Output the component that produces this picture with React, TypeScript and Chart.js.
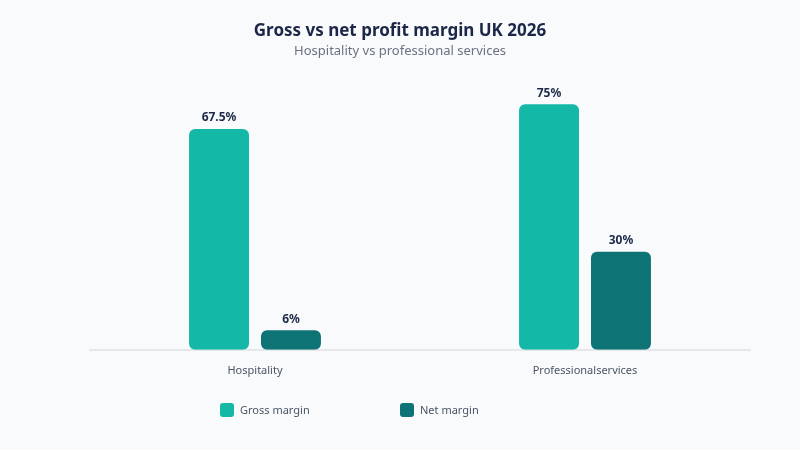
import React, { useEffect, useRef } from "react";
import { Chart, registerables } from "chart.js";

Chart.register(...registerables);

const categories = ["Hospitality", "Professionalservices"];
const grossMargin = [67.5, 75];
const netMargin = [6, 30];
const seriesNames = ["Gross margin", "Net margin"];
const seriesColors = ["#14b8a6", "#0e7374"];
const chartTitle = "Gross vs net profit margin UK 2026";
const chartSubtitle = "Hospitality vs professional services";

const FONT = "'Noto Sans', 'Open Sans', sans-serif";

// Writes each bar's value above it
const valueLabels = {
  id: "valueLabels",
  afterDatasetsDraw(chart: any) {
    const { ctx } = chart;
    ctx.save();
    ctx.font = `bold 12px ${FONT}`;
    ctx.fillStyle = "#1e2a4a";
    ctx.textAlign = "center";
    ctx.textBaseline = "bottom";
    chart.data.datasets.forEach((ds: any, i: number) => {
      const meta = chart.getDatasetMeta(i);
      meta.data.forEach((bar: any, j: number) => {
        ctx.fillText(`${ds.data[j]}%`, bar.x, bar.y - 5);
      });
    });
    ctx.restore();
  },
};

export default function App() {
  const canvasRef = useRef<HTMLCanvasElement | null>(null);

  useEffect(() => {
    document.body.style.margin = "0";
    const common = {
      borderRadius: 6,
      borderSkipped: false,
      barPercentage: 0.833,
      categoryPercentage: 0.436,
    };
    const chart = new Chart(canvasRef.current!, {
      type: "bar",
      data: {
        labels: categories,
        datasets: [
          { label: seriesNames[0], data: grossMargin, backgroundColor: seriesColors[0], ...common },
          { label: seriesNames[1], data: netMargin, backgroundColor: seriesColors[1], ...common },
        ],
      },
      options: {
        animation: false,
        responsive: false,
        layout: { padding: { top: 88, left: 90, right: 50, bottom: 67 } },
        plugins: {
          legend: { display: false },
          tooltip: { enabled: false },
        },
        scales: {
          x: {
            grid: { display: false },
            border: { color: "#e5e7eb", width: 2 },
            ticks: {
              color: "#4b5563",
              font: { family: FONT, size: 11 },
              padding: 6,
            },
          },
          y: {
            display: false,
            min: 0,
            max: 80,
          },
        },
      },
      plugins: [valueLabels],
    });
    return () => chart.destroy();
  }, []);

  return (
    <div style={{ position: "relative", width: 800, height: 450, background: "#f8fafc", fontFamily: FONT }}>
      <canvas ref={canvasRef} width={800} height={450} style={{ display: "block" }} />
      <div
        style={{
          position: "absolute",
          top: 19,
          left: 0,
          width: 800,
          textAlign: "center",
          fontSize: 17,
          fontWeight: "bold",
          color: "#1c2747",
          lineHeight: "22px",
        }}
      >
        {chartTitle}
      </div>
      <div
        style={{
          position: "absolute",
          top: 42,
          left: 0,
          width: 800,
          textAlign: "center",
          fontSize: 13,
          color: "#6b7280",
          lineHeight: "16px",
        }}
      >
        {chartSubtitle}
      </div>
      {seriesNames.map((name, i) => (
        <div
          key={name}
          style={{
            position: "absolute",
            top: 402,
            left: 220 + i * 180,
            display: "flex",
            alignItems: "center",
            gap: 6,
            fontSize: 11,
            color: "#4b5563",
            lineHeight: "16px",
          }}
        >
          <span
            style={{
              width: 14,
              height: 14,
              borderRadius: 3,
              background: seriesColors[i],
              display: "inline-block",
            }}
          />
          <span>{name}</span>
        </div>
      ))}
    </div>
  );
}
